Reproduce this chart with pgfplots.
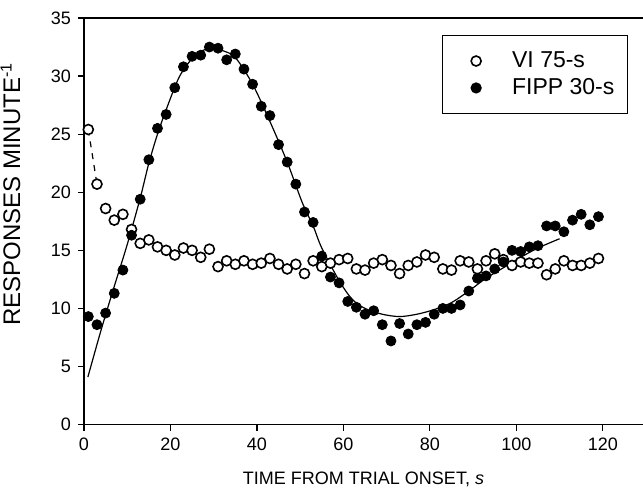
\documentclass[border=0pt]{standalone}
\usepackage{fontspec}
\setmainfont{Liberation Sans}
\usepackage{pgfplots}
\usepackage{pgfplotstable}
\pgfplotsset{compat=1.18}

% response rate per 2-s bin
\pgfplotstableread{
t   vi    fipp
1   25.4  9.3
3   20.7  8.6
5   18.6  9.6
7   17.6  11.3
9   18.1  13.3
11  16.8  16.3
13  15.6  19.4
15  15.9  22.8
17  15.3  25.5
19  15.0  26.7
21  14.6  29.0
23  15.2  30.8
25  15.0  31.7
27  14.4  31.8
29  15.1  32.5
31  13.6  32.4
33  14.1  31.4
35  13.8  31.9
37  14.1  30.6
39  13.8  29.3
41  13.9  27.4
43  14.3  26.6
45  13.8  24.1
47  13.4  22.6
49  13.8  20.7
51  13.0  18.3
53  14.1  17.4
55  13.6  14.5
57  13.9  12.7
59  14.2  12.2
61  14.3  10.6
63  13.4  10.1
65  13.3  9.5
67  13.9  9.8
69  14.2  8.6
71  13.7  7.2
73  13.0  8.7
75  13.7  7.8
77  14.0  8.6
79  14.6  8.8
81  14.4  9.5
83  13.4  10.0
85  13.3  10.0
87  14.1  10.3
89  14.0  11.5
91  13.4  12.6
93  14.1  12.8
95  14.7  13.4
97  14.2  14.0
99  13.7  15.0
101 14.0  14.9
103 13.9  15.3
105 13.9  15.4
107 12.9  17.1
109 13.4  17.1
111 14.1  16.6
113 13.7  17.6
115 13.7  18.1
117 13.9  17.2
119 14.3  17.9
}\resp

% fitted curve for FIPP
\pgfplotstableread{
t    fit
0.9  4.1
4    8.2
7    11.9
10   15.5
13   19.5
15   22.5
17   25.0
19   27.1
22   29.9
25   31.5
28   32.3
30   32.4
32   32.2
35   31.6
39   29.3
43   26.1
47   22.6
50.5 19.1
53   17.1
55   15.2
59   12.4
62   10.8
65   10.0
69   9.5
73   9.3
77   9.5
81   9.9
85   10.5
89   11.5
93   12.6
97   13.5
101  14.4
105  15.2
110  16.0
}\fitfipp

\begin{document}
\begin{tikzpicture}
\begin{axis}[
    scale only axis,
    width=279.5pt, height=203.3pt,
    xmin=0, xmax=129.3,
    ymin=0, ymax=35,
    xtick={0,20,...,120},
    ytick={0,5,...,35},
    axis x line=box,
    xtick pos=bottom,
    axis y line=left,
    axis line style={-, line width=0.6pt},
    tick align=outside,
    major tick length=3pt,
    tick style={black, line width=0.6pt},
    font=\fontsize{9}{10}\selectfont,
    /pgf/number format/assume math mode=true,
    xlabel={TIME FROM TRIAL ONSET, \textit{s}},
    xlabel style={yshift=-4pt},
    ylabel={RESPONSES MINUTE\textsuperscript{-1}},
    ylabel style={at={(axis description cs:-0.101,0.567)}, anchor=south,
        font=\fontsize{12}{13}\selectfont},
    clip=false,
    legend cell align=left,
    legend style={at={(rel axis cs:1,1)}, anchor=north east,
        xshift=-7.5pt, yshift=-8.5pt, draw=black, line width=0.6pt,
        inner xsep=14.5pt, inner ysep=6pt, row sep=0pt,
        /tikz/every odd column/.append style={column sep=13.5pt},
        font=\fontsize{11.5}{13}\selectfont},
]
\addplot[only marks, mark=*, mark size=2.5pt,
    mark options={fill=white, draw=black, line width=0.8pt}]
    table[x=t, y=vi] {\resp};
\addlegendentry{VI 75-s}

\addplot[dashed, line width=0.6pt, forget plot] coordinates {(1,25.4) (3,20.7)};
\addplot[smooth, line width=0.6pt, forget plot] table[x=t, y=fit] {\fitfipp};

\addplot[only marks, mark=*, mark size=2.5pt,
    mark options={fill=black, draw=black}]
    table[x=t, y=fipp] {\resp};
\addlegendentry{FIPP 30-s\hspace*{-10pt}}
\end{axis}
\pgfresetboundingbox
\path[use as bounding box] ([xshift=-42pt, yshift=-34.5pt]current axis.south west)
    rectangle ([yshift=9pt]current axis.north east);
\end{tikzpicture}
\end{document}
